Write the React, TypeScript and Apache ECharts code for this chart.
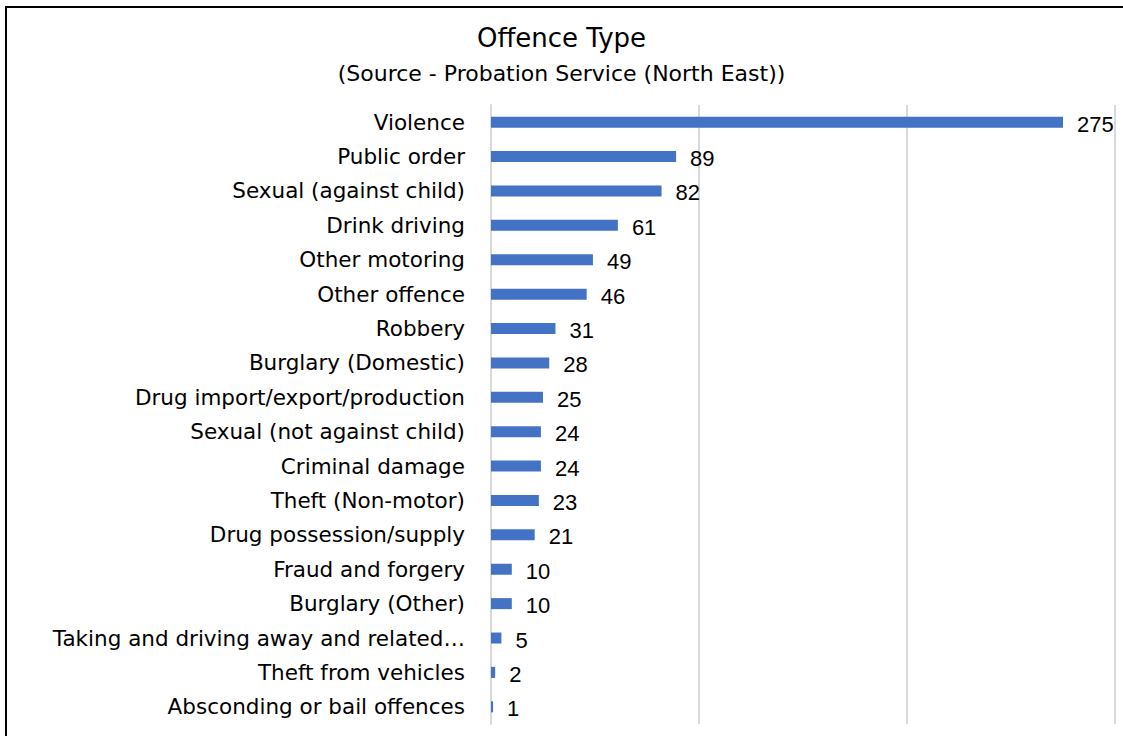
import React, { useEffect, useRef } from "react";
import * as echarts from "echarts";

const categories = [
  "Violence",
  "Public order",
  "Sexual (against child)",
  "Drink driving",
  "Other motoring",
  "Other offence",
  "Robbery",
  "Burglary (Domestic)",
  "Drug import/export/production",
  "Sexual (not against child)",
  "Criminal damage",
  "Theft (Non-motor)",
  "Drug possession/supply",
  "Fraud and forgery",
  "Burglary (Other)",
  "Taking and driving away and related…",
  "Theft from vehicles",
  "Absconding or bail offences",
];
const values = [275, 89, 82, 61, 49, 46, 31, 28, 25, 24, 24, 23, 21, 10, 10, 5, 2, 1];
const titleText = "Offence Type";
const subtitleText = "(Source - Probation Service (North East))";

export default function App() {
  const ref = useRef<HTMLDivElement>(null);
  useEffect(() => {
    if (!ref.current) return;
    const chart = echarts.init(ref.current, null, { renderer: "svg" });
    chart.setOption({
      animation: false,
      backgroundColor: "#ffffff",
      title: {
        text: titleText,
        subtext: subtitleText,
        left: "center",
        top: 20,
        itemGap: 11,
        textStyle: { fontFamily: "DejaVu Sans", fontSize: 26, fontWeight: "normal", color: "#000" },
        subtextStyle: { fontFamily: "DejaVu Sans", fontSize: 22, color: "#000" },
      },
      graphic: [
        {
          type: "rect",
          shape: { x: 6, y: 7, width: 1130, height: 750 },
          style: { fill: "none", stroke: "#000", lineWidth: 2 },
          silent: true,
        },
      ],
      grid: { left: 491, right: 8, top: 105, bottom: 12, containLabel: false },
      xAxis: {
        type: "value",
        min: 0,
        max: 300,
        interval: 100,
        axisLabel: { show: false },
        axisLine: { show: false },
        axisTick: { show: false },
        splitLine: { lineStyle: { color: "#d9d9d9", width: 2 } },
      },
      yAxis: {
        type: "category",
        inverse: true,
        data: categories,
        axisLine: { show: true, lineStyle: { color: "#d9d9d9", width: 2 } },
        axisTick: { show: false },
        axisLabel: { margin: 26, fontFamily: "DejaVu Sans", fontSize: 21.5, color: "#000" },
      },
      series: [
        {
          type: "bar",
          data: values,
          barWidth: "32%",
          itemStyle: { color: "#4472C4" },
          label: {
            show: true,
            position: "right",
            distance: 14,
            fontFamily: "Liberation Sans",
            fontSize: 22,
            color: "#000",
            offset: [0, 2],
          },
        },
      ],
    });
    return () => chart.dispose();
  }, []);
  return (
    <div
      ref={ref}
      style={{ position: "fixed", left: 0, top: 0, width: 1123, height: 736 }}
    />
  );
}
